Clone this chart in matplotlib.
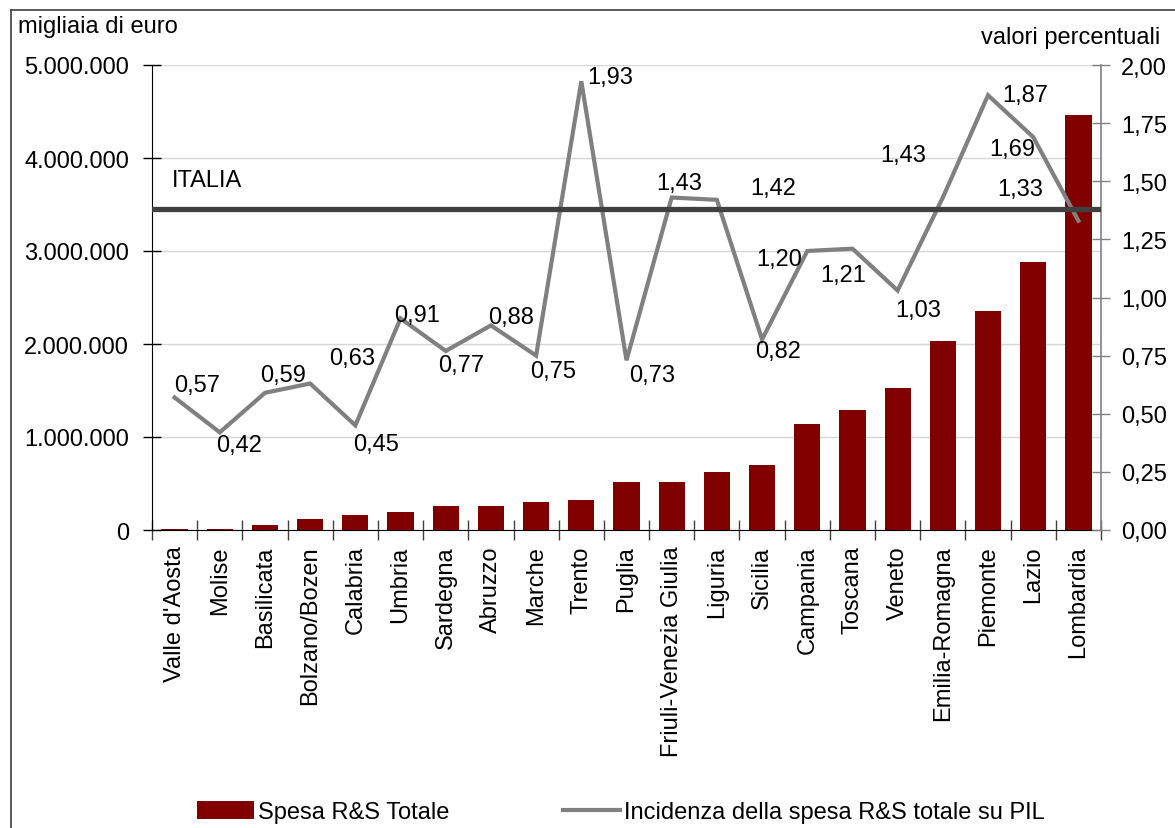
import matplotlib
matplotlib.use("Agg")
import matplotlib.pyplot as plt
from matplotlib.patches import Patch
from matplotlib.lines import Line2D
from matplotlib.ticker import FuncFormatter, FixedLocator, MultipleLocator
import numpy as np

plt.rcParams['font.family'] = ['Liberation Sans', 'DejaVu Sans']

regioni = ["Valle d'Aosta", "Molise", "Basilicata", "Bolzano/Bozen", "Calabria",
           "Umbria", "Sardegna", "Abruzzo", "Marche", "Trento", "Puglia",
           "Friuli-Venezia Giulia", "Liguria", "Sicilia", "Campania", "Toscana",
           "Veneto", "Emilia-Romagna", "Piemonte", "Lazio", "Lombardia"]

# Spesa R&S totale (migliaia di euro)
spesa = [15000, 12000, 55000, 118000, 160000, 195000, 258000, 258000, 300000,
         322000, 516000, 516000, 624000, 699000, 1140000, 1290000, 1527000,
         2032000, 2355000, 2882000, 4462000]

# Incidenza della spesa R&S totale su PIL (%)
incidenza = [0.57, 0.42, 0.59, 0.63, 0.45, 0.91, 0.77, 0.88, 0.75, 1.93, 0.73,
             1.43, 1.42, 0.82, 1.20, 1.21, 1.03, 1.43, 1.87, 1.69, 1.33]

italia = 1.38

# label offsets (pixels) from each point of the line
label_offsets = [(23, 12), (19, -13), (18, 18), (42, 26), (21, -19), (17, 3),
                 (15, -14), (20, 8), (17, -15), (29, 4), (26, -15), (7, 15),
                 (56, 12), (16, -12), (-28, -8), (-9, -26), (21, -19),
                 (-40, 43), (37, 0), (-21, -12), (-58, 32)]

FS = 17
W, H = 1175, 829
fig = plt.figure(figsize=(W / 100, H / 100), dpi=100)

# outer frame (top and left edges)
fig.add_artist(Line2D([11 / W, 1.0], [1 - 11 / H, 1 - 11 / H], color='#404040', lw=1.2,
                      transform=fig.transFigure))
fig.add_artist(Line2D([11 / W, 11 / W], [0.0, 1 - 11 / H], color='#404040', lw=1.2,
                      transform=fig.transFigure))

left, right, top, bottom = 152, 1101, 66, 531
ax = fig.add_axes([left / W, 1 - bottom / H, (right - left) / W, (bottom - top) / H])
x = np.arange(len(regioni))

ax.bar(x, spesa, width=0.58, color='#800000', zorder=2)
ax.set_xlim(-0.5, len(regioni) - 0.5)
ax.set_ylim(0, 5000000)
ax.yaxis.set_major_locator(MultipleLocator(1000000))
ax.yaxis.set_major_formatter(FuncFormatter(lambda v, p: f"{int(v):,}".replace(",", ".")))
ax.grid(axis='y', color='#d6d6d6', lw=1, zorder=0)
ax.set_axisbelow(True)

ax.set_xticks(x)
ax.set_xticklabels(regioni, rotation=90, fontsize=FS)
ax.xaxis.set_minor_locator(FixedLocator(np.arange(-0.5, len(regioni), 1.0)))
ax.tick_params(axis='x', which='major', length=0, pad=11)
ax.tick_params(axis='x', which='minor', direction='inout', length=14, color='#404040', width=1)
ax.tick_params(axis='y', direction='inout', length=13, labelsize=FS, pad=10, width=1)

for s in ['top', 'right']:
    ax.spines[s].set_visible(False)
ax.spines['left'].set_color('black')
ax.spines['bottom'].set_color('black')

ax2 = ax.twinx()
ax2.set_ylim(0, 2.0)
ax2.yaxis.set_major_locator(MultipleLocator(0.25))
ax2.yaxis.set_major_formatter(FuncFormatter(lambda v, p: f"{v:.2f}".replace(".", ",")))
ax2.tick_params(axis='y', direction='inout', length=13, labelsize=FS, pad=8,
                color='#808080', width=1)
for s in ['top', 'left', 'bottom']:
    ax2.spines[s].set_visible(False)
ax2.spines['right'].set_color('#808080')
ax2.spines['right'].set_linewidth(1.2)

ax2.plot(x, incidenza, color='#808080', lw=3, zorder=3, solid_joinstyle='miter')
ax2.axhline(italia, color='#404040', lw=3.8, zorder=4)
ax2.annotate("ITALIA", xy=(0, italia), xycoords=ax2.get_yaxis_transform(),
             xytext=(20, 29), textcoords='offset pixels', fontsize=FS,
             ha='left', va='center')

for xi, v, (dx, dy) in zip(x, incidenza, label_offsets):
    ax2.annotate(f"{v:.2f}".replace(".", ","), xy=(xi, v), xytext=(dx, dy),
                 textcoords='offset pixels', fontsize=FS, ha='center', va='center',
                 zorder=5)

fig.text(18 / W, 1 - 27 / H, "migliaia di euro", fontsize=FS, ha='left', va='center')
fig.text(1160 / W, 1 - 38 / H, "valori percentuali", fontsize=FS, ha='right', va='center')

handles = [Patch(facecolor='#800000', edgecolor='none', label='Spesa R&S Totale'),
           Line2D([], [], color='#808080', lw=3,
                  label='Incidenza della spesa R&S totale su PIL')]
fig.legend(handles=handles, loc='center left', bbox_to_anchor=(197 / W, 1 - 813 / H),
           ncol=2, frameon=False, fontsize=FS, handlelength=2.4, handleheight=0.8,
           handletextpad=0.2, columnspacing=4.8, borderpad=0, borderaxespad=0)

fig.savefig("out.png", dpi=100)
